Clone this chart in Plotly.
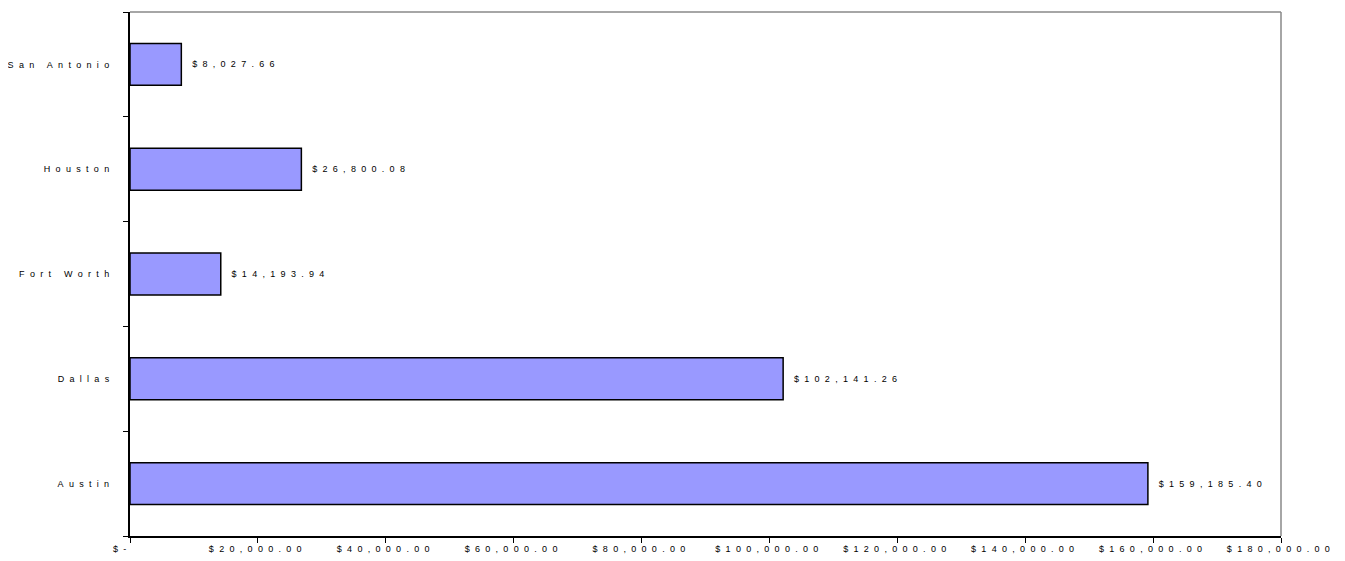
import plotly.graph_objects as go

cities = ["Austin", "Dallas", "Fort Worth", "Houston", "San Antonio"]
sales = [159185.40, 102141.26, 14193.94, 26800.08, 8027.66]
x_ticks = [0, 20000, 40000, 60000, 80000, 100000, 120000, 140000, 160000, 180000]

LS = "letter-spacing:5.3px"


def spaced(s):
    return f'<span style="{LS}">{s}</span>'


def money(v):
    return "$-\u00a0\u00a0" if v == 0 else f"${v:,.2f}"


fig = go.Figure(go.Bar(
    y=cities,
    x=sales,
    orientation="h",
    marker=dict(color="#9999FF", line=dict(color="black", width=1.5)),
    text=[spaced("\u00a0" + money(v)) for v in sales],
    textposition="outside",
    textfont=dict(family="Liberation Sans, Arial", size=9, color="black"),
    cliponaxis=False,
    hoverinfo="skip",
))

# page body has an 8px margin, so the figure is offset by 8px in the viewport
fig.update_layout(
    width=1337, height=553,
    margin=dict(l=122, r=64, t=4, b=25, autoexpand=False),
    paper_bgcolor="white", plot_bgcolor="white",
    bargap=0.6,
    showlegend=False,
    font=dict(family="Liberation Sans, Arial", size=9, color="black"),
    shapes=[
        dict(type="line", xref="paper", yref="paper", x0=0, x1=1, y0=1, y1=1,
             line=dict(color="#888888", width=1.5)),
        dict(type="line", xref="paper", yref="paper", x0=1, x1=1, y0=0, y1=1,
             line=dict(color="#888888", width=1.5)),
    ],
)

fig.update_xaxes(
    range=[0, 180000],
    tickvals=x_ticks,
    ticktext=[spaced(money(v)) for v in x_ticks],
    ticks="outside", ticklen=5, tickcolor="black", tickwidth=1,
    showline=True, linecolor="black", linewidth=1.5,
    showgrid=False, zeroline=False,
    automargin=False,
    ticklabelstandoff=-2,
    tickfont=dict(size=9),
)
fig.update_yaxes(
    tickvals=cities,
    ticktext=[spaced(c) for c in cities],
    tickson="boundaries",
    ticks="outside", ticklen=5, tickcolor="black", tickwidth=1,
    showline=True, linecolor="black", linewidth=1.5,
    showgrid=False, zeroline=False,
    automargin=False,
    ticklabelstandoff=12,
    tickfont=dict(size=9),
)

fig.write_html("out.html")
